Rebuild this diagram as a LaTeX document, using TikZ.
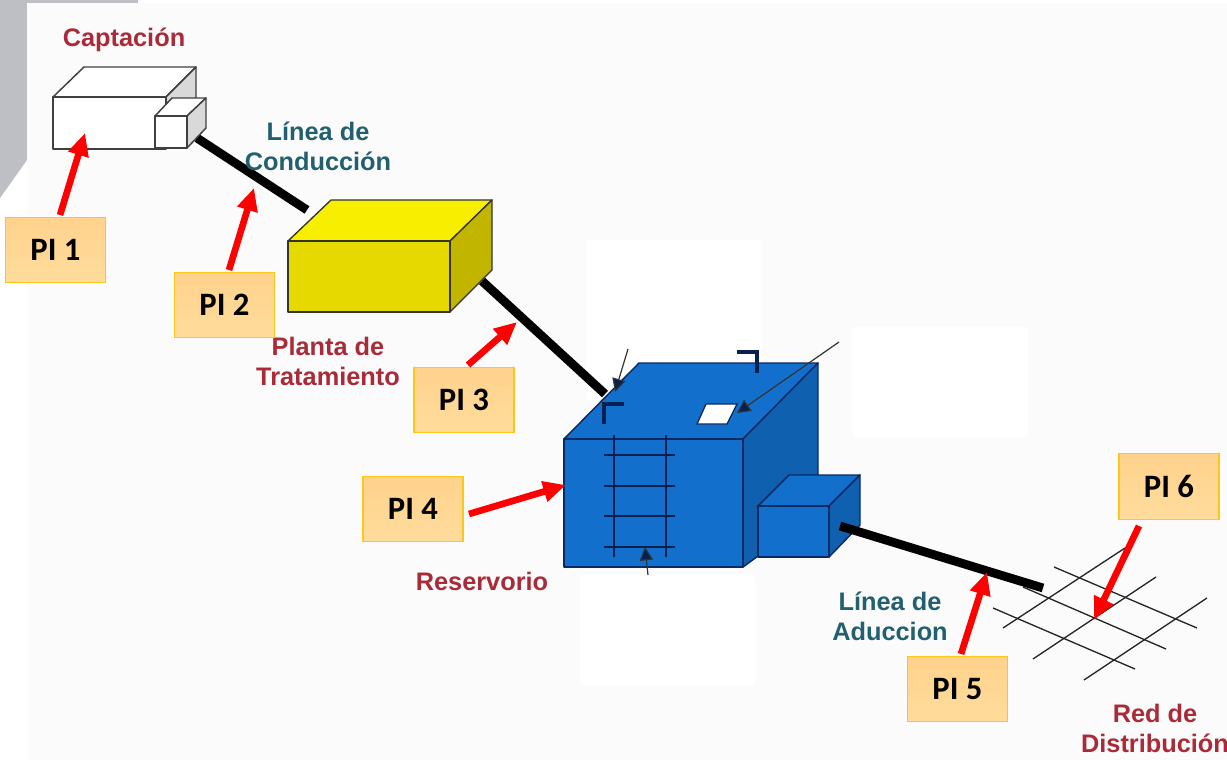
\documentclass[tikz,border=0pt]{standalone}
\usepackage{fontspec}
\setmainfont{Liberation Sans}
\newfontfamily\calfont{Carlito}
\usetikzlibrary{arrows.meta}
\definecolor{graybg}{HTML}{BDBFC5}
\definecolor{paper}{HTML}{FBFBFB}
\definecolor{lblred}{HTML}{A92B38}
\definecolor{lblteal}{HTML}{22606F}
\definecolor{blueF}{HTML}{1270CC}
\definecolor{blueS}{HTML}{0F60AE}
\definecolor{blueE}{HTML}{0A2A66}
\definecolor{navy}{HTML}{08204F}
\definecolor{yellowT}{HTML}{F7EE00}
\definecolor{yellowS}{HTML}{C2B500}
\definecolor{yellowF}{HTML}{E5D900}
\definecolor{calloutTop}{HTML}{FFD28C}
\definecolor{calloutBot}{HTML}{FFDC9C}
\definecolor{calloutEdge}{HTML}{FFC61A}
\tikzset{
  x=0.75pt,y=-0.75pt,
  wface/.style={draw=black!75,line width=1.1pt,line join=round,fill=white},
  gface/.style={draw=black!75,line width=1.1pt,line join=round,fill=black!15},
  yface/.style={draw=black!80,line width=1pt,line join=round},
  bface/.style={draw=blueE,line width=1.1pt,line join=round,fill=blueF},
  bside/.style={draw=blueE,line width=1.1pt,line join=round,fill=blueS},
  pipe/.style={line width=6.6pt,black},
  picallout/.style={draw=calloutEdge,line width=0.9pt,top color=calloutTop,bottom color=calloutBot,minimum width=75pt,minimum height=49pt,inner sep=0pt,font=\calfont\bfseries\fontsize{24.5}{28}\selectfont,text=black},
  redarrow/.style={draw=red,line width=5pt,-{Triangle[length=17pt,width=15pt]}},
  thinarrow/.style={draw=black!80,line width=0.9pt,-{Triangle[length=10pt,width=10pt,fill=navy]}},
  lbl/.style={font=\bfseries\fontsize{19}{22.5}\selectfont,align=center,inner sep=0pt,text=#1},
  grid/.style={draw=black!85,line width=1pt},
  ladder/.style={draw=navy,line width=1.3pt},
  hatchmark/.style={draw=navy,line width=3pt},
  patch/.style={fill=white,draw=none},
}
\begin{document}
\begin{tikzpicture}
\useasboundingbox (0,0) rectangle (1227,760);
% page
\fill[white] (0,0) rectangle (1227,760);
\fill[graybg] (0,0) -- (138,0) -- (138,3) -- (27,3) -- (27,160) -- (0,198) -- cycle;
\fill[paper] (27,3) rectangle (1227,760);
% white patches
\fill[patch] (587,240) rectangle (762,400);
\fill[patch] (853,327) rectangle (1028,437);
\fill[patch] (580,575) rectangle (755,685);

% named anchors
\coordinate (capEnd) at (197,138);
\coordinate (ptIn) at (307,210);
\coordinate (ptOut) at (482,281);
\coordinate (resIn) at (605,394);
\coordinate (camOut) at (840,526);
\coordinate (redIn) at (1043,588);

% pipes
\draw[pipe] (capEnd) -- (ptIn);
\draw[pipe] (ptOut) -- (resIn);

% Captacion
\draw[wface] (53,97) -- (84,67) -- (196,67) -- (166,97) -- cycle;
\draw[gface] (166,97) -- (196,67) -- (196,98) -- (166,116) -- cycle;
\draw[wface] (53,97) rectangle (166,149);
\draw[wface] (155,116) -- (172,98) -- (206,98) -- (187,116) -- cycle;
\draw[gface] (187,116) -- (206,98) -- (206,128) -- (187,148) -- cycle;
\draw[wface] (155,116) rectangle (187,148);

% Planta
\draw[yface,fill=yellowT] (288,241) -- (331,200) -- (492,200) -- (450,241) -- cycle;
\draw[yface,fill=yellowS] (450,241) -- (492,200) -- (492,270) -- (450,312) -- cycle;
\draw[yface,fill=yellowF] (288,241) rectangle (450,312);

% Reservorio
\draw[bface] (564,439) -- (639,363) -- (818,363) -- (743,439) -- cycle;
\draw[bside] (743,439) -- (818,363) -- (818,476) -- (758,556) -- (743,567) -- cycle;
\draw[bface] (564,439) rectangle (743,567);
\draw[draw=blueE,line width=1pt,fill=white] (697,424) -- (706,404) -- (737,404) -- (727,424) -- cycle;
\draw[hatchmark] (604,424) -- (604,404) -- (624,404);
\draw[hatchmark] (737,352) -- (757,352) -- (757,373);
\foreach \lx in {614,666} \draw[ladder] (\lx,435) -- (\lx,557);
\foreach \ly in {455,486,516,547} \draw[ladder] (604,\ly) -- (675,\ly);
% Camara
\draw[bface] (758,506) -- (789,475) -- (860,475) -- (829,506) -- cycle;
\draw[bside] (829,506) -- (860,475) -- (860,525) -- (829,557) -- cycle;
\draw[bface] (758,506) rectangle (829,557);

% pipe aduccion
\draw[pipe] (camOut) -- (redIn);

% thin arrows
\coordinate (t1a) at (628,349); \coordinate (t1b) at (615,392);
\coordinate (t2a) at (839,342); \coordinate (t2b) at (737,413);
\coordinate (t3a) at (648,575); \coordinate (t3b) at (645,547);
\draw[thinarrow] (t1a) -- (t1b);
\draw[thinarrow] (t2a) -- (t2b);
\draw[thinarrow] (t3a) -- (t3b);

% red de distribucion
\draw[grid] (1003,628) -- (1125,548);
\draw[grid] (1033,659) -- (1156,577);
\draw[grid] (1084,680) -- (1207,598);
\draw[grid] (1054,567) -- (1197,628);
\draw[grid] (1023,587) -- (1166,649);
\draw[grid] (993,608) -- (1135,669);

% labels
\node[lbl=lblred] (lcap) at (124,40) {Captación};
\node[lbl=lblteal] (lcon) at (318,146) {Línea de\\Conducción};
\node[lbl=lblred] (lpla) at (328,361) {Planta de\\Tratamiento};
\node[lbl=lblred] (lres) at (482,581) {Reservorio};
\node[lbl=lblteal] (ladu) at (890,616) {Línea de\\Aduccion};
\node[lbl=lblred] (lred) at (1155,728) {Red de\\Distribución};

% callouts
\node[picallout] (p1) at (55.5,250) {PI 1};
\node[picallout] (p2) at (224.5,305) {PI 2};
\node[picallout] (p3) at (464,400) {PI 3};
\node[picallout] (p4) at (413,509) {PI 4};
\node[picallout] (p5) at (957.5,689) {PI 5};
\node[picallout] (p6) at (1169,486.5) {PI 6};

\coordinate (a1s) at (60,215); \coordinate (a1e) at (85,133);
\coordinate (a2s) at (229,270); \coordinate (a2e) at (254,188);
\coordinate (a3s) at (468,365); \coordinate (a3e) at (517,322);
\coordinate (a4s) at (469,514); \coordinate (a4e) at (566,485);
\coordinate (a5s) at (961,654); \coordinate (a5e) at (987,572);
\coordinate (a6s) at (1139,526); \coordinate (a6e) at (1094,620);
\draw[redarrow] (a1s) -- (a1e);
\draw[redarrow] (a2s) -- (a2e);
\draw[redarrow] (a3s) -- (a3e);
\draw[redarrow] (a4s) -- (a4e);
\draw[redarrow] (a5s) -- (a5e);
\draw[redarrow] (a6s) -- (a6e);
\end{tikzpicture}
\end{document}
